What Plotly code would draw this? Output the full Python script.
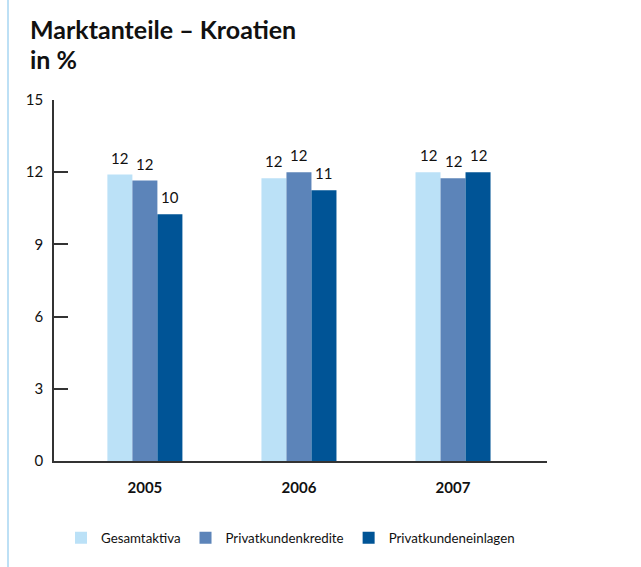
import plotly.graph_objects as go

# Market share data (percent)
years = ["2005", "2006", "2007"]
series_names = ["Gesamtaktiva", "Privatkundenkredite", "Privatkundeneinlagen"]
gesamtaktiva = [11.9, 11.75, 12.0]
privatkundenkredite = [11.65, 12.0, 11.75]
privatkundeneinlagen = [10.25, 11.25, 12.0]
y_ticks = [0, 3, 6, 9, 12, 15]

colors = ["#bbe1f7", "#5c84b9", "#005496"]
FONT = "Lato"
all_series = [gesamtaktiva, privatkundenkredite, privatkundeneinlagen]

fig = go.Figure()
for name, vals, col in zip(series_names, all_series, colors):
    fig.add_trace(go.Bar(
        x=years, y=vals, name=name,
        marker=dict(color=col, line=dict(width=0)),
    ))

W, H = 641, 567
L, R, T, B = 54, 94, 100, 106
pw, ph = W - L - R, H - T - B
BAR_PX = 25  # pixel width of one bar within a group

# value labels above each bar, rounded to whole percent
annotations = []
for i, vals in enumerate(all_series):
    for j, v in enumerate(vals):
        annotations.append(dict(
            x=j, y=v, text=f"{v:.0f}", showarrow=False,
            xanchor="center", yanchor="bottom",
            xshift=(i - 1) * BAR_PX, yshift=6,
            font=dict(family=FONT, size=15, color="#111111"),
        ))

# two-line chart title
for line_text, top_px in [("Marktanteile – Kroatien", 12), ("in %", 42)]:
    annotations.append(dict(
        text=line_text, xref="paper", yref="paper",
        x=(28 - L) / pw, y=1 + (T - top_px) / ph,
        xanchor="left", yanchor="top", align="left", showarrow=False,
        font=dict(family=FONT, size=25, color="#111111", weight="bold"),
    ))

fig.update_layout(
    width=W, height=H,
    margin=dict(l=L, r=R, t=T, b=B, autoexpand=False),
    paper_bgcolor="white", plot_bgcolor="white",
    barmode="group", bargap=0.513, bargroupgap=0,
    font=dict(family=FONT, color="#111111"),
    showlegend=True,
    legend=dict(orientation="h", x=(61 - L) / pw, xanchor="left",
                y=-(538 - (T + ph)) / ph, yanchor="middle",
                font=dict(family=FONT, size=13.3, color="#111111"),
                itemwidth=30, itemsizing="constant", traceorder="normal",
                bgcolor="rgba(0,0,0,0)"),
    xaxis=dict(type="category", range=[-0.59, 2.61], showline=True,
               linecolor="#333333", linewidth=1.5, ticks="", showgrid=False,
               zeroline=False,
               tickfont=dict(family=FONT, size=15, color="#111111", weight="bold"),
               ticklabelstandoff=12),
    yaxis=dict(range=[0, 15], tickvals=y_ticks, showline=True,
               linecolor="#333333", linewidth=1.5, ticks="inside",
               ticklen=14, tickwidth=1.5, tickcolor="#333333",
               showgrid=False, zeroline=False,
               tickfont=dict(family=FONT, size=15, color="#111111"),
               ticklabelstandoff=6),
    annotations=annotations,
    shapes=[dict(type="line", xref="paper", yref="paper",
                 x0=(8 - L) / pw, x1=(8 - L) / pw,
                 y0=-(H - (T + ph)) / ph, y1=1 + T / ph,
                 line=dict(color="#bde0f5", width=2))],
)

fig.write_html("out.html")
